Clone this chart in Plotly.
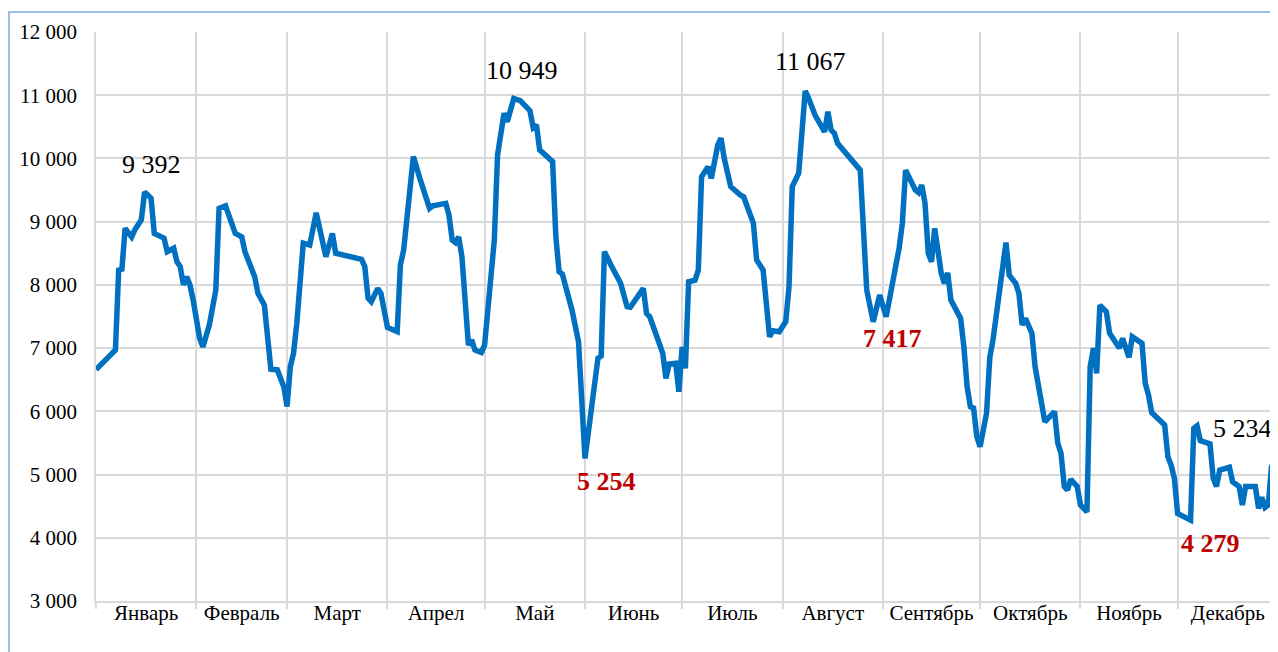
import pandas as pd
import plotly.graph_objects as go

# ---- data (day offset from 1 January, value) ----
year_start = "2021-01-01"
days = [0, 6, 7, 8, 9, 11, 12, 14, 15, 17, 18, 21, 22, 24, 25, 26, 27, 28, 29, 30,
        32, 33, 35, 36, 37, 38, 40, 43, 45, 46, 49, 50, 52, 54, 56, 58, 59, 60, 61, 62,
        64, 66, 68, 71, 73, 74, 82, 83, 84, 85, 87, 88, 89, 90, 93, 94, 95, 98, 100, 103,
        104, 108, 109, 110, 111, 112, 113, 115, 116, 117, 119, 120, 123, 124, 126, 127, 129, 131, 134, 135,
        136, 137, 141, 142, 143, 144, 147, 149, 151, 155, 156, 157, 159, 162, 164, 165, 169, 170, 171, 175,
        176, 177, 179, 180, 181, 182, 183, 185, 186, 187, 189, 190, 192, 193, 194, 196, 199, 200, 203, 204,
        206, 207, 208, 209, 211, 213, 214, 215, 217, 219, 220, 222, 225, 226, 227, 228, 229, 236, 237, 238,
        240, 242, 244, 248, 249, 250, 253, 254, 255, 256, 257, 258, 259, 261, 262, 263, 264, 267, 268, 269,
        270, 271, 272, 273, 275, 276, 277, 281, 282, 284, 285, 286, 287, 289, 290, 292, 293, 296, 297, 298,
        299, 300, 301, 303, 304, 306, 307, 308, 309, 310, 312, 313, 316, 317, 319, 320, 323, 324, 325, 326,
        330, 331, 332, 333, 334, 338, 339, 340, 341, 344, 345, 346, 347, 350, 351, 353, 354, 355, 358, 359,
        360, 361, 362, 363, 364]
values = [6660, 6970, 8235, 8250, 8895, 8760, 8870, 9030, 9470, 9370, 8815, 8740, 8525, 8580, 8365, 8290, 8000, 8130, 8000, 7760,
          7155, 7020, 7365, 7600, 7920, 9210, 9250, 8815, 8760, 8525, 8130, 7865, 7680, 6665, 6655, 6390, 6075, 6705, 6920, 7390,
          8660, 8630, 9140, 8445, 8815, 8500, 8405, 8290, 7790, 7735, 7945, 7865, 7550, 7330, 7260, 8315, 8550, 10030, 9685, 9210,
          9250, 9290, 9105, 8710, 8670, 8760, 8445, 7050, 7130, 6970, 6930, 7050, 8710, 10055, 10715, 10580, 10949, 10915, 10755, 10490,
          10530, 10135, 9950, 8760, 8210, 8170, 7600, 7100, 5254, 6840, 6875, 8525, 8315, 8025, 7655, 7645, 7945, 7550, 7495, 6920,
          6520, 6750, 6760, 6310, 7020, 6680, 8050, 8075, 8235, 9710, 9870, 9685, 10210, 10320, 10000, 9555, 9420, 9395, 8975, 8395,
          8235, 7600, 7180, 7275, 7260, 7420, 7970, 9555, 9765, 11067, 10960, 10690, 10420, 10740, 10450, 10400, 10240, 9815, 8975, 7920,
          7417, 7840, 7495, 8580, 8975, 9815, 9500, 9460, 9580, 9290, 8500, 8365, 8895, 8185, 8025, 8190, 7760, 7470, 7020, 6390,
          6075, 6050, 5600, 5440, 5970, 6850, 7130, 8670, 8155, 8025, 7865, 7365, 7470, 7235, 6705, 6075, 5835, 5995, 5495, 5335,
          4810, 4755, 4925, 4810, 4520, 4410, 6705, 7000, 6600, 7680, 7575, 7235, 7000, 7155, 6855, 7180, 7075, 6445, 6260, 5980,
          5785, 5280, 5150, 4940, 4385, 4279, 5730, 5770, 5535, 5485, 4940, 4810, 5070, 5115, 4885, 4810, 4520, 4810, 4810, 4465,
          4640, 4480, 4520, 5125, 5234]

month_names = ["Январь", "Февраль", "Март", "Апрел", "Май", "Июнь",
               "Июль", "Август", "Сентябрь", "Октябрь", "Ноябрь", "Декабрь"]

# labelled points
label_days = [15, 129, 219, 151, 240, 338, 364]
label_texts = ["9 392", "10 949", "11 067", "5 254", "7 417", "4 279", "5 234"]
label_is_min = [False, False, False, True, True, True, False]
label_shift = [(7, 27), (8, 28), (5, 29), (22, -23), (19, -17), (20, -23), (-32, 31)]

# ---- build ----
start = pd.Timestamp(year_start)
dates = start + pd.to_timedelta(days, unit="D")
month_starts = pd.date_range(start, start + pd.DateOffset(years=1), freq="MS")
mids = [a + (b - a) / 2 for a, b in zip(month_starts[:-1], month_starts[1:])]

FONT = "Liberation Serif, Times New Roman, serif"
GRID = "#d9d9d9"

fig = go.Figure()
fig.add_trace(go.Scatter(x=dates, y=values, mode="lines",
                         line=dict(color="#0070C0", width=5.5),
                         hoverinfo="skip"))

val_by_day = dict(zip(days, values))
for d, t, is_min, (xs, ys) in zip(label_days, label_texts, label_is_min, label_shift):
    fig.add_annotation(
        x=start + pd.Timedelta(days=d), y=val_by_day[d],
        text=f"<b>{t}</b>" if is_min else t,
        showarrow=False, xshift=xs, yshift=ys,
        xanchor="center", yanchor="middle",
        font=dict(family=FONT, size=26, color="#C00000" if is_min else "#000000"),
    )

fig.add_shape(type="rect", xref="paper", yref="paper",
              x0=-0.0736, x1=1.05, y0=-0.2, y1=1.0351,
              line=dict(color="#7fa6e0", width=1.5), fillcolor="rgba(0,0,0,0)",
              layer="below")

fig.update_layout(
    width=1270, height=644,
    margin=dict(l=88, r=0, t=24, b=51),
    paper_bgcolor="white", plot_bgcolor="white",
    showlegend=False,
    separators=". ",
    xaxis=dict(
        type="date",
        range=[month_starts[0], month_starts[-1]],
        tickmode="array", tickvals=mids, ticktext=month_names,
        showgrid=False, ticks="",
        ticklabelstandoff=-8,
        tickfont=dict(family=FONT, size=21, color="black"),
        showline=True, linecolor=GRID, linewidth=1.5,
        zeroline=False,
        minor=dict(tickmode="array", tickvals=list(month_starts), showgrid=True,
                   gridcolor=GRID, gridwidth=1.5, ticks="outside", ticklen=6,
                   tickcolor=GRID, tickwidth=1.5),
    ),
    yaxis=dict(
        range=[3000, 12000], tickmode="linear", tick0=3000, dtick=1000,
        tickformat=",d",
        showgrid=True, gridcolor=GRID, gridwidth=1.5,
        zeroline=False, showline=True, linecolor=GRID, linewidth=1.5,
        ticks="", ticklabelstandoff=13,
        tickfont=dict(family=FONT, size=21, color="black"),
    ),
)

fig.write_html("out.html")
